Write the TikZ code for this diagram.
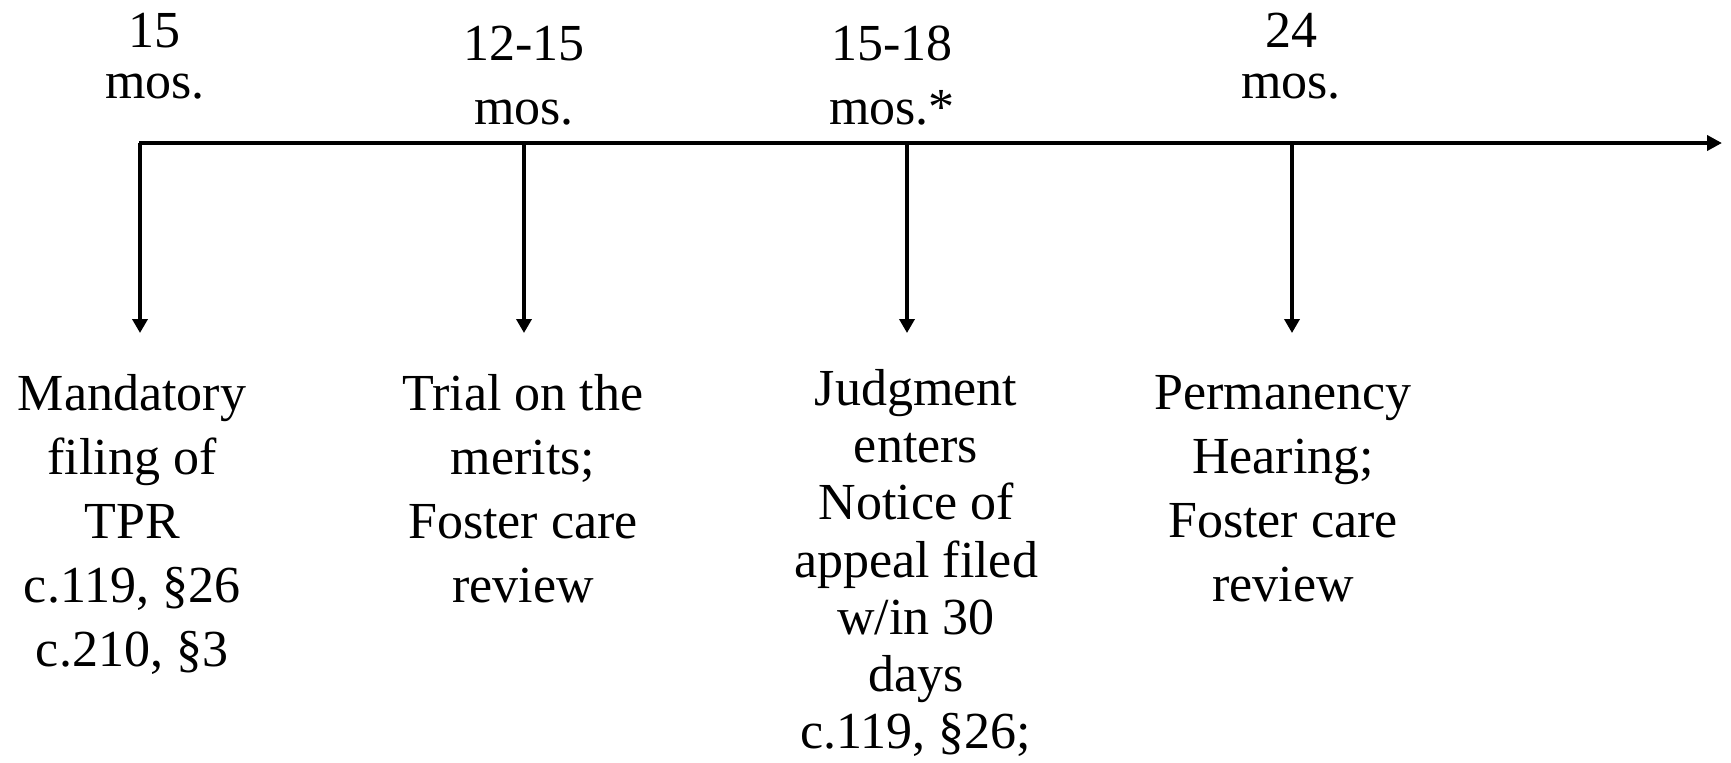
\documentclass[tikz,border=0pt]{standalone}
\usepackage{fontspec}
\setmainfont{Liberation Serif}
\usetikzlibrary{arrows.meta}
\begin{document}
\begin{tikzpicture}[x=0.5pt,y=-0.5pt,
  lbl/.style={anchor=north, inner sep=0pt, align=center, font=\fontsize{26}{32}\selectfont},
  lbltight/.style={lbl, font=\fontsize{26}{25.5}\selectfont},
  lblmid/.style={lbl, font=\fontsize{26}{28.6}\selectfont},
  axis/.style={line width=2pt, -{Triangle[length=7.5pt,width=7.5pt]}},
  tickarrow/.style={line width=1.8pt, -{Triangle[length=7pt,width=7.5pt]}}]
\useasboundingbox (0,0) rectangle (1731,762);

% axis
\coordinate (s0) at (139,143);
\coordinate (s1) at (140,143);
\coordinate (s2) at (524,143);
\coordinate (s3) at (907,143);
\coordinate (s4) at (1292,143);
\coordinate (send) at (1722,143);
\coordinate (e1) at (140,333);
\coordinate (e2) at (524,333);
\coordinate (e3) at (907,333);
\coordinate (e4) at (1292,333);

\draw[axis] (s0) -- (send);
\draw[tickarrow] (s1) -- (e1);
\draw[tickarrow] (s2) -- (e2);
\draw[tickarrow] (s3) -- (e3);
\draw[tickarrow] (s4) -- (e4);

% top labels
\node[lbltight] (t1) at (155,13) {15\\mos.};
\node[lbl] (t2) at (524,26) {12-15\\mos.};
\node[lbl] (t3) at (892,26) {15-18\\mos.*};
\node[lbltight] (t4) at (1291,13) {24\\mos.};

% bottom labels
\node[lbl] (b1) at (132,374.5) {Mandatory\\filing of\\TPR\\c.119, §26\\c.210, §3};
\node[lbl] (b2) at (523,374.5) {Trial on the\\merits;\\Foster care\\review};
\node[lblmid] (b3) at (916,369) {Judgment\\enters\\Notice of\\appeal filed\\w/in 30\\days\\c.119, §26;};
\node[lbl] (b4) at (1283,375.5) {Permanency\\Hearing;\\Foster care\\review};
\end{tikzpicture}
\end{document}
